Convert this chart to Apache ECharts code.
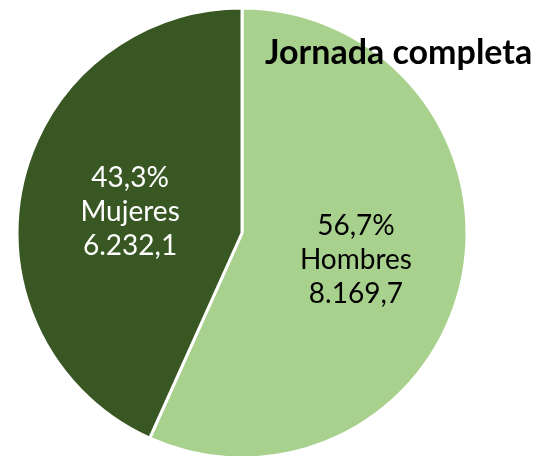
<!DOCTYPE html>
<html>
<head>
<meta charset="utf-8">
<script src="https://cdn.jsdelivr.net/npm/echarts@6/dist/echarts.min.js"></script>
<style>
  html, body { margin: 0; padding: 0; background: #ffffff; }
  #chart { width: 541px; height: 456px; }
</style>
</head>
<body>
<div id="chart"></div>
<script>
// Full-time employment split by sex (thousands)
const categories = ['Hombres', 'Mujeres'];
const values = [8169.7, 6232.1];
const sliceColors = ['#A9D18E', '#385723'];
const labelColors = ['#000000', '#ffffff'];
const chartTitle = 'Jornada completa';

// Spanish number formatting: dot for thousands, comma for decimals
function fmtNumber(v, digits) {
  const parts = v.toFixed(digits).split('.');
  parts[0] = parts[0].replace(/\B(?=(\d{3})+(?!\d))/g, '.');
  return parts.join(',');
}

const total = values.reduce((a, b) => a + b, 0);

const chart = echarts.init(document.getElementById('chart'), null, { renderer: 'canvas' });

chart.setOption({
  backgroundColor: '#ffffff',
  animation: false,
  title: {
    text: chartTitle,
    left: 260,
    top: 31,
    textStyle: {
      fontFamily: 'Lato',
      fontWeight: 'bold',
      fontSize: 34,
      color: '#000000'
    }
  },
  series: [{
    type: 'pie',
    center: [242, 233],
    radius: 225,
    startAngle: 90,
    clockwise: true,
    silent: true,
    z: 1,
    itemStyle: { borderColor: '#ffffff', borderWidth: 3 },
    label: {
      show: true,
      position: 'inside',
      fontFamily: 'Lato',
      fontSize: 28,
      lineHeight: 34,
      align: 'center',
      offset: [1, 3],
      formatter: function (p) {
        const pct = fmtNumber(values[p.dataIndex] / total * 100, 1) + '%';
        return pct + '\n' + p.name + '\n' + fmtNumber(p.value, 1);
      }
    },
    labelLine: { show: false },
    data: categories.map((name, i) => ({
      name: name,
      value: values[i],
      itemStyle: { color: sliceColors[i] },
      label: { color: labelColors[i] }
    }))
  }]
});
</script>
</body>
</html>
